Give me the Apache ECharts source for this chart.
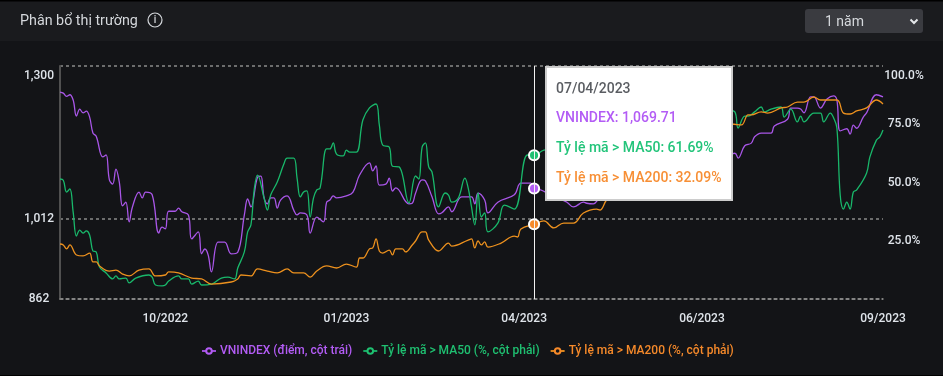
<!DOCTYPE html>
<html><head><meta charset="utf-8">
<style>html,body{margin:0;padding:0;background:#000}#c{width:943px;height:376px}</style>
<script src="https://cdn.jsdelivr.net/npm/echarts@6/dist/echarts.min.js"></script>
</head><body><div id="c"></div>
<script>
const tickSessions = [32, 87, 141, 195, 250];
const tickLabels = ['10/2022', '01/2023', '04/2023', '06/2023', '09/2023'];
const leftTicks = [862, 1012, 1300];
const hoverSession = 144;
const hoverDate = '07/04/2023';
const names = ['VNINDEX (điểm, cột trái)', 'Tỷ lệ mã > MA50 (%, cột phải)', 'Tỷ lệ mã > MA200 (%, cột phải)'];

const vnindex = [[0,1251],[1,1249],[2,1243],[3,1246],[4,1236],[5,1206],[6,1219],[7,1212],[8,1215],[9,1204],[10,1174],[11,1168],[13,1129],[14,1133],[15,1086],[16,1078],[17,1106],[18,1082],[19,1037],[20,1044],[21,1007],[22,1035],[24,1063],[25,1052],[26,1063],[28,1058],[30,986],[31,997],[32,994],[33,1027],[35,1027],[36,1033],[37,1026],[39,1020],[40,975],[42,988],[43,947],[44,956],[45,945],[46,913],[48,969],[50,969],[52,947],[54,950],[56,1020],[57,1050],[58,1035],[60,1091],[61,1093],[62,1052],[63,1041],[64,1052],[65,1052],[66,1033],[67,1048],[69,1056],[71,1029],[72,1020],[73,1024],[75,1020],[76,986],[78,1016],[80,1007],[81,1044],[82,1048],[83,1056],[84,1052],[87,1056],[89,1063],[91,1095],[94,1118],[95,1103],[96,1112],[97,1076],[99,1078],[100,1089],[101,1065],[102,1071],[106,1041],[107,1042],[108,1061],[110,1086],[111,1084],[113,1054],[115,1022],[116,1024],[118,1035],[119,1026],[122,1054],[125,1054],[126,1041],[127,1061],[129,1048],[130,1024],[133,1044],[138,1058],[140,1080],[143,1080],[144,1069.71],[146,1067],[149,1058],[152,1050],[154,1044],[156,1035],[159,1044],[160,1042],[162,1041],[164,1052],[170,1067],[176,1076],[182,1089],[188,1101],[195,1114],[201,1127],[205,1136],[206,1127],[208,1150],[210,1155],[211,1167],[213,1174],[216,1174],[217,1187],[221,1200],[222,1221],[224,1221],[225,1219],[226,1212],[228,1242],[229,1242],[231,1221],[233,1238],[235,1244],[236,1236],[237,1178],[239,1182],[240,1172],[241,1189],[242,1183],[244,1204],[245,1212],[248,1246],[250,1242]];

const ma50 = [[0,51.5],[1,51],[2,45.9],[3,47.2],[4,37.3],[5,27],[6,29.6],[7,28.3],[8,29.2],[9,27.5],[10,20.6],[11,20.2],[12,13.7],[14,11.2],[16,8.6],[17,9.9],[18,8.6],[20,9],[21,6.9],[23,9],[27,10.3],[28,9.4],[29,6],[31,5.6],[32,6],[33,7.7],[36,9.9],[37,8.6],[39,8.6],[40,6.4],[42,7.7],[43,6],[46,6.4],[49,9],[51,9.4],[53,8.6],[54,13.3],[56,20.2],[57,28.8],[58,31.8],[59,47],[60,53.2],[62,43.3],[63,38.2],[64,44.6],[66,50.2],[68,57.9],[69,60.5],[71,60.5],[72,52],[73,43.8],[74,45.9],[75,46.4],[76,35.2],[77,43.3],[78,46.8],[79,47.6],[81,64.4],[82,64.4],[83,67],[84,62.2],[86,61.4],[87,63.9],[88,63],[90,63],[92,76.8],[94,82],[96,83.7],[97,74.7],[98,66.1],[100,65.2],[101,57],[103,56.7],[106,41.2],[108,52.8],[109,51.5],[110,65.2],[111,67],[112,56.7],[113,54.5],[115,39.5],[117,45.5],[118,44.6],[119,41.6],[121,43.3],[123,51.9],[124,47.6],[125,39.5],[126,31.8],[127,45.5],[128,35.2],[129,36.9],[130,28.8],[133,32.6],[135,40.3],[138,38.6],[142,61.8],[144,61.69],[147,63.9],[153,64.8],[158,68.2],[167,71.7],[173,73.4],[179,76],[185,77.7],[192,79],[198,80.3],[203,81.1],[205,80.3],[206,73.4],[208,78.5],[209,78.5],[211,80.3],[213,82.4],[214,80.3],[216,81.5],[219,82.4],[220,78.1],[222,81.5],[224,76],[225,78.5],[226,76],[229,79.8],[231,79.8],[232,76],[234,79.8],[235,77.7],[236,73.4],[237,44.6],[238,38.6],[239,41.6],[240,38.6],[241,45.9],[242,46.8],[245,54],[246,60.9],[248,68.2],[249,69.5],[250,72.5]];

const ma200 = [[0,23.6],[1,23.2],[2,21.5],[3,23.2],[5,18.9],[7,18.5],[9,19.7],[10,15.9],[11,15.9],[12,14.2],[15,12],[17,12.4],[19,10.7],[21,9.9],[24,12.4],[27,12.9],[29,9.9],[32,10.3],[33,11.6],[36,11.2],[40,9],[43,8.6],[46,6.4],[52,7.3],[54,8.6],[55,10.3],[58,9.9],[60,12.9],[63,12],[66,11.2],[69,12.9],[71,11.2],[74,11.2],[76,9.4],[78,12],[81,14.2],[84,13.3],[87,15],[90,13.7],[91,17.6],[92,17.6],[94,21.5],[95,21.9],[96,25.8],[97,20.6],[98,19.7],[100,21],[101,18.9],[102,21.5],[104,21.5],[105,20.2],[107,23.2],[108,24.9],[110,28.8],[111,28.8],[112,25.3],[115,20.6],[118,24],[119,22.7],[124,25.3],[125,25.8],[126,21.9],[127,24.9],[128,23.2],[129,24.5],[130,22.3],[134,24],[138,27],[139,26.6],[140,30],[144,32.09],[147,33.5],[150,30.5],[153,32.6],[156,32.6],[159,36.9],[163,38.6],[164,38.2],[166,42.5],[170,48.9],[176,54.5],[182,61.8],[188,68.2],[194,71.7],[201,73.4],[204,75.1],[207,74.7],[209,79],[210,79],[213,80.3],[215,79.8],[219,82],[221,82.4],[224,84.5],[226,84.5],[229,86.7],[231,85.4],[236,85.4],[238,79.8],[240,79.4],[242,80.7],[245,82],[248,85.4],[250,83.7]];

const lineColors = ['#9a4fd3', '#17a862', '#d8841c'];
const textColors = ['#b35cf5', '#1fc071', '#f5892a'];
const BG = '#131417';
const FONT = 'Roboto, sans-serif';
const labelColor = '#dfe4ea';

const chart = echarts.init(document.getElementById('c'), null, {renderer: 'canvas'});

function mkSeries(i, data, yIdx) {
  return {
    name: names[i], type: 'line', yAxisIndex: yIdx, data,
    smooth: 0.4, showSymbol: false, symbol: 'circle', symbolSize: 7,
    lineStyle: {color: lineColors[i], width: 1.3},
    itemStyle: {color: BG, borderColor: textColors[i], borderWidth: 1.5},
    emphasis: {scale: 1.45, lineStyle: {width: 1.3}, itemStyle: {color: textColors[i], borderColor: '#fff', borderWidth: 2}},
    animation: false
  };
}

const labelStyle = {color: labelColor, fontSize: 12, fontWeight: 500, fontFamily: FONT};
const topRich = {top: {...labelStyle, padding: [4, 0, 0, 0]}};

chart.setOption({
  backgroundColor: BG,
  animation: false,
  textStyle: {fontFamily: FONT},
  graphic: [
    {type: 'rect', z: -10, silent: true, shape: {x: 0, y: 0, width: 943, height: 41}, style: {fill: '#1a1b1e'}},
    {type: 'rect', z: -9, silent: true, shape: {x: 0, y: 0, width: 943, height: 1.5}, style: {fill: '#000'}},
    {type: 'rect', z: -9, silent: true, shape: {x: 0, y: 375, width: 943, height: 1}, style: {fill: '#000'}},
    {type: 'text', silent: true, x: 20, y: 21, style: {text: 'Phân bổ thị trường', fill: '#d5d8dc', font: '400 14.3px ' + FONT, verticalAlign: 'middle'}},
    {type: 'circle', silent: true, shape: {cx: 155, cy: 20, r: 7}, style: {fill: 'none', stroke: '#d5d8dc', lineWidth: 1.2}},
    {type: 'text', silent: true, x: 155, y: 20.5, style: {text: 'i', fill: '#d5d8dc', font: '500 10px ' + FONT, align: 'center', verticalAlign: 'middle'}},
    {type: 'rect', silent: true, shape: {x: 805, y: 9, width: 118, height: 24, r: 3}, style: {fill: '#3a3b40'}},
    {type: 'text', silent: true, x: 825, y: 22, style: {text: '1 năm', fill: '#d5d8dc', font: '400 14px ' + FONT, verticalAlign: 'middle'}},
    {type: 'polyline', silent: true, shape: {points: [[910.5, 19.5], [914, 23], [917.5, 19.5]]}, style: {fill: 'none', stroke: '#e4e6e9', lineWidth: 2}}
  ],
  grid: {left: 60, right: 60, top: 66, bottom: 77, containLabel: false},
  legend: {
    bottom: 14, left: 196, itemGap: 10, itemWidth: 14, itemHeight: 7,
    selectedMode: false,
    data: names.map((n, i) => ({name: n, textStyle: {color: textColors[i], fontWeight: 500, fontSize: 12, fontFamily: FONT}})),
    textStyle: {padding: [0, 0, 0, -1]}
  },
  tooltip: {
    trigger: 'axis', alwaysShowContent: true, transitionDuration: 0, showDelay: 0,
    position: [545, 66],
    backgroundColor: '#fff', borderColor: '#ccc', borderWidth: 2, padding: 0,
    extraCssText: 'box-shadow:none;border-radius:0;width:188px;height:135px;box-sizing:border-box;',
    axisPointer: {type: 'line', snap: true, label: {show: false}, lineStyle: {color: '#f2f2f2', width: 1, type: 'solid'}},
    formatter() {
      const vals = [vnindex, ma50, ma200].map(a => a.find(p => p[0] === hoverSession)[1]);
      const texts = [
        'VNINDEX: ' + vals[0].toLocaleString('en-US', {minimumFractionDigits: 2}),
        'Tỷ lệ mã > MA50: ' + vals[1].toFixed(2) + '%',
        'Tỷ lệ mã > MA200: ' + vals[2].toFixed(2) + '%'
      ];
      const row = (t, c, top) => `<div style="position:absolute;left:9px;top:${top}px;white-space:nowrap;color:${c};font:500 14px ${FONT};line-height:18px;">${t.replace('>', '&gt;')}</div>`;
      return `<div style="position:relative;width:184px;height:131px;">` +
        row(hoverDate, '#5a5d62', 11) +
        row(texts[0], textColors[0], 40) + row(texts[1], '#22c47a', 70) + row(texts[2], '#f78f35', 100) + `</div>`;
    }
  },
  xAxis: {
    type: 'value', min: 0, max: 250, splitLine: {show: false},
    axisLine: {show: true, lineStyle: {color: '#8a8a8a', width: 1.5, type: [3, 3]}},
    axisTick: {show: false, customValues: tickSessions},
    axisLabel: {
      ...labelStyle, customValues: tickSessions, margin: 14,
      formatter: v => tickLabels[tickSessions.indexOf(v)]
    }
  },
  yAxis: [
    {
      type: 'value', min: 862, max: 1300, position: 'left',
      axisLine: {show: true, onZero: false, lineStyle: {color: '#444', width: 2}},
      axisTick: {show: false, customValues: leftTicks},
      splitLine: {show: true, lineStyle: {color: '#8a8a8a', width: 1.5, type: [3, 3]}},
      axisLabel: {
        ...labelStyle, customValues: leftTicks, margin: 21, align: 'center', verticalAlignMaxLabel: 'top', rich: topRich,
        formatter: v => {
          const t = v.toLocaleString('en-US');
          return v === 1300 ? '{top|' + t + '}' : t;
        }
      }
    },
    {
      type: 'value', min: 0, max: 100, interval: 25, position: 'right',
      axisLine: {show: true, lineStyle: {color: '#555', width: 1.5}},
      axisTick: {show: false}, splitLine: {show: false},
      axisLabel: {
        ...labelStyle, margin: 21, align: 'center', showMinLabel: false, verticalAlignMaxLabel: 'top', rich: topRich,
        formatter: v => {
          const t = v.toFixed(1) + '%';
          return v === 100 ? '{top|' + t + '}' : t;
        }
      }
    }
  ],
  series: [mkSeries(0, vnindex, 0), mkSeries(1, ma50, 1), mkSeries(2, ma200, 1)]
});

chart.dispatchAction({type: 'showTip', seriesIndex: 0, dataIndex: vnindex.findIndex(p => p[0] === hoverSession)});
</script></body></html>
